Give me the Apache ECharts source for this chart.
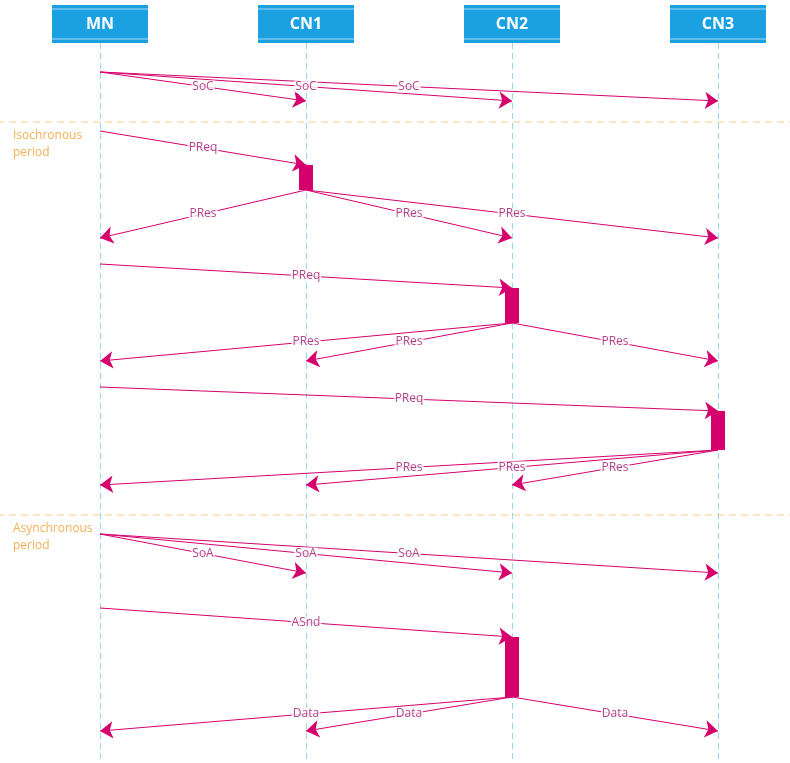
<!DOCTYPE html>
<html>
<head>
<meta charset="utf-8">
<script src="https://cdn.jsdelivr.net/npm/echarts@6/dist/echarts.min.js"></script>
<style>html,body{margin:0;padding:0;background:#fff}#main{width:790px;height:763px}</style>
</head>
<body>
<div id="main"></div>
<script>
// nodes (x index) and time runs downward (y)
var nodes = ['MN', 'CN1', 'CN2', 'CN3'];
// [from, to, tStart, tEnd, label]
var messages = [
    [0, 1, 72, 101, 'SoC'], [0, 2, 72, 101, 'SoC'], [0, 3, 72, 101, 'SoC'],
    [0, 1, 131, 165, 'PReq'],
    [1, 0, 190, 238, 'PRes'], [1, 2, 190, 238, 'PRes'], [1, 3, 190, 238, 'PRes'],
    [0, 2, 264, 288, 'PReq'],
    [2, 0, 323, 361, 'PRes'], [2, 1, 323, 361, 'PRes'], [2, 3, 323, 361, 'PRes'],
    [0, 3, 387, 411, 'PReq'],
    [3, 0, 450, 485, 'PRes'], [3, 1, 450, 485, 'PRes'], [3, 2, 450, 485, 'PRes'],
    [0, 1, 534, 573, 'SoA'], [0, 2, 534, 573, 'SoA'], [0, 3, 534, 573, 'SoA'],
    [0, 2, 608, 637, 'ASnd'],
    [2, 0, 697, 731, 'Data'], [2, 1, 697, 731, 'Data'], [2, 3, 697, 731, 'Data']
];
// [node, tStart, tEnd]
var activations = [[1, 165, 190], [2, 288, 323], [3, 411, 450], [2, 637, 697]];
// period separators: [t, label]
var periods = [[122, 'Isochronous\nperiod'], [515, 'Asynchronous\nperiod']];

var pink = '#D5006D';
var chart = echarts.init(document.getElementById('main'));

var lineData = messages.map(function (m) {
    return { coords: [[m[0], m[2]], [m[1], m[3]]] };
});
var labelData = messages.map(function (m) {
    return { value: [(m[0] + m[1]) / 2, (m[2] + m[3]) / 2], name: m[4] };
});
var lifelines = nodes.map(function (n, i) {
    return { coords: [[i, 43], [i, 763]] };
});
var periodLines = periods.map(function (p) {
    return { coords: [[-0.5, p[0]], [3.4, p[0]]] };
});

var option = {
    animation: false,
    grid: { left: 0, right: 0, top: 0, bottom: 0 },
    xAxis: { type: 'value', min: -100 / 206, max: 690 / 206, show: false },
    yAxis: { type: 'value', min: 0, max: 763, inverse: true, show: false },
    series: [
        {
            type: 'lines', coordinateSystem: 'cartesian2d', z: 1,
            lineStyle: { color: '#3BA9E6', width: 1, type: [6, 4] },
            data: lifelines
        },
        {
            type: 'lines', coordinateSystem: 'cartesian2d', z: 1,
            lineStyle: { color: '#F7B867', width: 1.5, type: [7, 5] },
            data: periodLines
        },
        {
            type: 'scatter', symbolSize: 0, z: 2,
            label: {
                show: true, position: 'right', formatter: '{b}', color: '#F19B2C',
                fontFamily: 'Open Sans', fontSize: 12, lineHeight: 17, align: 'left', verticalAlign: 'top'
            },
            data: periods.map(function (p) { return { value: [-92 / 206, p[0] + 5], name: p[1] }; })
        },
        {
            type: 'lines', coordinateSystem: 'cartesian2d', z: 3,
            symbol: ['none', 'arrow'], symbolSize: 13,
            lineStyle: { color: pink, width: 1, opacity: 1 },
            data: lineData
        },
        {
            type: 'scatter', symbolSize: 0, z: 5,
            label: {
                show: true, position: 'inside', formatter: '{b}', color: '#9E1670',
                fontFamily: 'Open Sans', fontSize: 12, backgroundColor: '#fff', padding: [0, 1]
            },
            data: labelData
        },
        {
            type: 'custom', z: 4,
            renderItem: function (params, api) {
                var a = api.coord([api.value(0), api.value(1)]);
                var b = api.coord([api.value(0), api.value(2)]);
                return { type: 'rect', shape: { x: a[0] - 7, y: a[1], width: 14, height: b[1] - a[1] }, style: { fill: pink } };
            },
            data: activations
        },
        {
            type: 'custom', z: 6,
            renderItem: function (params, api) {
                var c = api.coord([api.value(0), 0]);
                return {
                    type: 'group', children: [
                        { type: 'rect', shape: { x: c[0] - 48, y: 5, width: 96, height: 38 }, style: { fill: '#1BA1E2' } },
                        { type: 'line', shape: { x1: c[0] - 48, y1: 9, x2: c[0] + 48, y2: 9 }, style: { stroke: '#fff', lineWidth: 1, opacity: 0.6 } },
                        { type: 'line', shape: { x1: c[0] - 48, y1: 39, x2: c[0] + 48, y2: 39 }, style: { stroke: '#fff', lineWidth: 1, opacity: 0.6 } },
                        { type: 'text', x: c[0], y: 24, style: { text: nodes[params.dataIndex], fill: '#fff', font: 'bold 16px "Open Sans"', align: 'center', verticalAlign: 'middle' } }
                    ]
                };
            },
            data: nodes.map(function (n, i) { return [i]; })
        }
    ]
};
chart.setOption(option);
</script>
</body>
</html>
